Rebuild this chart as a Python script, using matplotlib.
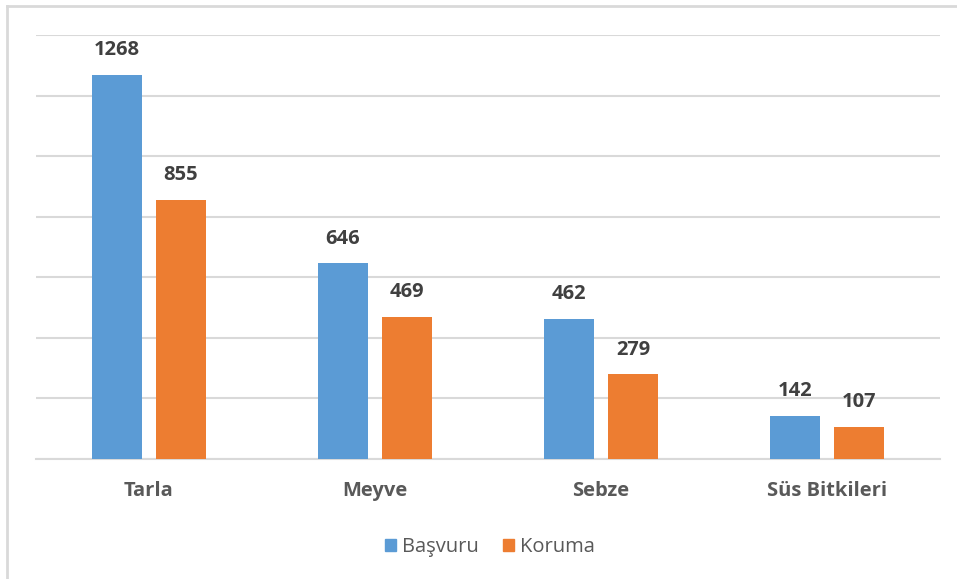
import numpy as np
import matplotlib.pyplot as plt
from matplotlib.lines import Line2D
from matplotlib.patches import Patch

categories = ["Tarla", "Meyve", "Sebze", "Süs Bitkileri"]
basvuru = [1268, 646, 462, 142]
koruma = [855, 469, 279, 107]
series_names = ["Başvuru", "Koruma"]

blue = "#5B9BD5"
orange = "#ED7D31"
grid_c = "#D9D9D9"
txt = "#404040"

plt.rcParams['font.family'] = ['Open Sans', 'DejaVu Sans']

fig = plt.figure(figsize=(9.57, 5.79), dpi=100)
ax = fig.add_axes([0.0376, 0.2073, 0.9446, 0.7323])

x = np.arange(len(categories))
w = 0.221
off = 0.1416
b1 = ax.bar(x - off, basvuru, w, color=blue, zorder=3)
b2 = ax.bar(x + off, koruma, w, color=orange, zorder=3)

for bars in (b1, b2):
    for r in bars:
        ax.annotate(f"{int(r.get_height())}",
                    (r.get_x() + r.get_width() / 2, r.get_height()),
                    xytext=(0, 10.5), textcoords="offset points",
                    ha="center", va="bottom", fontsize=14.5,
                    fontweight="bold", color=txt)

ax.set_xlim(-0.5, 3.5)
ax.set_ylim(0, 1400)
ax.set_yticks(np.arange(0, 1401, 200))
ax.yaxis.grid(True, color=grid_c, linewidth=1.5, zorder=0)
ax.tick_params(axis="y", left=False, labelleft=False)
ax.tick_params(axis="x", bottom=False, pad=12)
ax.set_xticks(x)
ax.set_xticklabels(categories, fontsize=14.5, fontweight="bold", color="#595959")
for s in ["top", "right", "left"]:
    ax.spines[s].set_visible(False)
ax.spines["bottom"].set_color(grid_c)
ax.spines["bottom"].set_linewidth(1.5)

handles = [Patch(color=blue), Patch(color=orange)]
fig.legend(handles, series_names, loc="center", bbox_to_anchor=(0.512, 0.055),
           ncol=2, frameon=False, fontsize=14.5, handlelength=0.55,
           handleheight=0.55, handletextpad=0.3, columnspacing=1.2,
           labelcolor="#595959")

# chart frame (left and top edges visible)
fig.add_artist(Line2D([7 / 957, 7 / 957], [0, 1 - 6 / 579],
                      transform=fig.transFigure, color="#D9D9D9", lw=2))
fig.add_artist(Line2D([7 / 957, 1], [1 - 6 / 579, 1 - 6 / 579],
                      transform=fig.transFigure, color="#D9D9D9", lw=2))

fig.savefig("out.png", dpi=100)
